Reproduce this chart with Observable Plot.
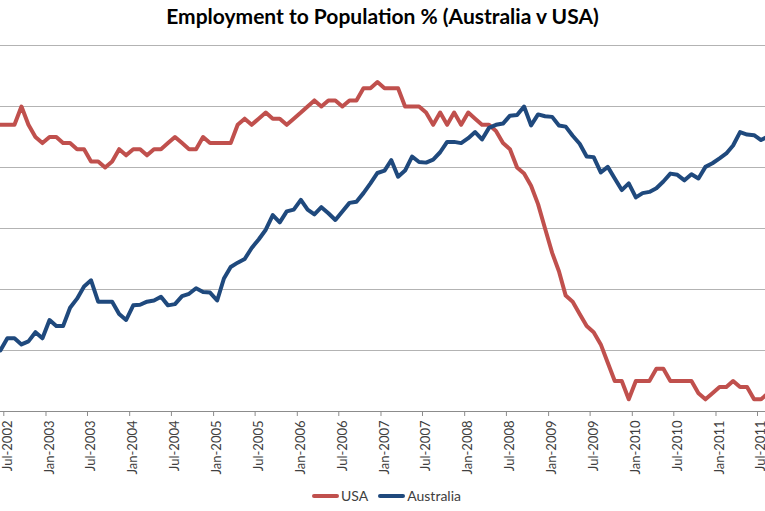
<!DOCTYPE html>
<html>
<head>
<meta charset="utf-8">
<script src="https://cdn.jsdelivr.net/npm/d3@7"></script>
<script src="https://cdn.jsdelivr.net/npm/@observablehq/plot@0.6"></script>
<style>
  body { margin: 0; background: #fff; }
  #wrap { position: relative; width: 765px; height: 511px; overflow: hidden; background: #fff; font-family: Lato, "Open Sans", sans-serif; }
  #chart { position: absolute; left: 0; top: 0; }
  #title { position: absolute; top: 3px; left: 0; width: 765px; text-align: center; font-weight: bold; font-size: 21px; color: #000; }
  #legend { position: absolute; top: 487px; left: 312px; display: flex; align-items: center; font-size: 14px; color: #404040; }
  #legend .sw { display: inline-block; width: 27px; height: 4px; border-radius: 2px; }
  #legend .lab { margin-left: 2px; margin-right: 10px; }
</style>
</head>
<body>
<div id="wrap">
  <div id="chart"></div>
  <div id="title">Employment to Population % (Australia v USA)</div>
  <div id="legend"></div>
</div>
<script>
// ---- data (monthly, starting Jun 2002) ----
const startMonth = "2002-06-01";
const seriesNames = ["USA", "Australia"];
const seriesColors = ["#C0504D", "#1F497D"];

const usa = [
  62.7, 62.7, 62.7, 63.0, 62.7, 62.5, 62.4,
  62.5, 62.5, 62.4, 62.4, 62.3, 62.3, 62.1, 62.1, 62.0, 62.1, 62.3, 62.2,
  62.3, 62.3, 62.2, 62.3, 62.3, 62.4, 62.5, 62.4, 62.3, 62.3, 62.5, 62.4,
  62.4, 62.4, 62.4, 62.7, 62.8, 62.7, 62.8, 62.9, 62.8, 62.8, 62.7, 62.8,
  62.9, 63.0, 63.1, 63.0, 63.1, 63.1, 63.0, 63.1, 63.1, 63.3, 63.3, 63.4,
  63.3, 63.3, 63.3, 63.0, 63.0, 63.0, 62.9, 62.7, 62.9, 62.7, 62.9, 62.7,
  62.9, 62.8, 62.7, 62.7, 62.6, 62.4, 62.3, 62.0, 61.9, 61.7, 61.4, 61.0,
  60.6, 60.3, 59.9, 59.8, 59.6, 59.4, 59.3, 59.1, 58.8, 58.5, 58.5, 58.2,
  58.5, 58.5, 58.5, 58.7, 58.7, 58.5, 58.5, 58.5, 58.5, 58.3, 58.2, 58.3,
  58.4, 58.4, 58.5, 58.4, 58.4, 58.2, 58.2, 58.3
];

const australia = [
  59.0, 59.2, 59.2, 59.1, 59.15, 59.3, 59.2,
  59.5, 59.4, 59.4, 59.7, 59.85, 60.05, 60.15, 59.8, 59.8, 59.8, 59.6, 59.5,
  59.74, 59.75, 59.8, 59.82, 59.88, 59.74, 59.76, 59.89, 59.93, 60.02, 59.96, 59.95,
  59.82, 60.18, 60.37, 60.44, 60.5, 60.68, 60.82, 60.98, 61.22, 61.1, 61.28, 61.31,
  61.47, 61.31, 61.23, 61.35, 61.25, 61.14, 61.28, 61.42, 61.44, 61.58, 61.74, 61.91,
  61.95, 62.12, 61.85, 61.95, 62.18, 62.09, 62.08, 62.13, 62.25, 62.42, 62.42, 62.4,
  62.48, 62.58, 62.46, 62.65, 62.7, 62.72, 62.85, 62.86, 63.0, 62.69, 62.87, 62.84,
  62.83, 62.69, 62.67, 62.52, 62.39, 62.18, 62.17, 61.92, 62.01, 61.82, 61.63, 61.74,
  61.51, 61.58, 61.6, 61.66, 61.77, 61.9, 61.88, 61.79, 61.89, 61.82, 62.01, 62.07,
  62.15, 62.23, 62.36, 62.58, 62.54, 62.53, 62.45, 62.51
];

const tickLabels = [
  "Jul-2002", "Jan-2003", "Jul-2003", "Jan-2004", "Jul-2004", "Jan-2005", "Jul-2005",
  "Jan-2006", "Jul-2006", "Jan-2007", "Jul-2007", "Jan-2008", "Jul-2008", "Jan-2009",
  "Jul-2009", "Jan-2010", "Jul-2010", "Jan-2011", "Jul-2011"
];
const gridValues = [59, 60, 61, 62, 63, 64];
const yDomain = [58, 64];

// ---- build table ----
const start = new Date(startMonth + "T00:00:00Z");
const mid = t => new Date((+t + +d3.utcMonth.offset(t, 1)) / 2);
const rows = [];
[usa, australia].forEach((vals, s) => {
  vals.forEach((v, i) => rows.push({ date: mid(d3.utcMonth.offset(start, i)), value: v, series: seriesNames[s] }));
});

const parse = d3.utcParse("%b-%Y");
const fmt = d3.utcFormat("%b-%Y");
const tickDates = tickLabels.map(parse);
const labelDates = tickDates.map(mid);

// map first/last label tick to their pixel positions in the original frame
const W = 765, pxA = 3.3, pxB = 757;
const t0 = +tickDates[0], t1 = +tickDates[tickDates.length - 1];
const k = (t1 - t0) / (pxB - pxA);
const xDomain = [new Date(t0 - pxA * k), new Date(t0 + (W - pxA) * k)];

const chart = Plot.plot({
  width: W,
  height: 511,
  marginTop: 45,
  marginBottom: 100,
  marginLeft: 0,
  marginRight: 0,
  style: { fontFamily: "Lato, 'Open Sans', sans-serif", fontSize: "13px", color: "#404040", background: "transparent" },
  x: { type: "utc", domain: xDomain },
  y: { domain: yDomain, axis: null },
  color: { domain: seriesNames, range: seriesColors },
  marks: [
    Plot.ruleY(gridValues, { stroke: "#b3b3b3", strokeWidth: 1, strokeOpacity: 1 }),
    Plot.ruleY([yDomain[0]], { stroke: "#8c8c8c", strokeWidth: 1, strokeOpacity: 1 }),
    Plot.axisX(tickDates, { tickSize: 5, tickFormat: () => "", stroke: "#8c8c8c", strokeOpacity: 1 }),
    Plot.axisX(labelDates, { tickSize: 0, tickPadding: 9, tickRotate: -90, tickFormat: d => fmt(d3.utcMonth.floor(d)), fill: "#404040", fontSize: 13 }),
    Plot.line(rows, { x: "date", y: "value", z: "series", stroke: "series", strokeWidth: 4, strokeLinejoin: "round", strokeLinecap: "round", clip: true })
  ]
});
document.getElementById("chart").appendChild(chart);

// ---- legend ----
const legend = document.getElementById("legend");
seriesNames.forEach((name, i) => {
  const sw = document.createElement("span");
  sw.className = "sw";
  sw.style.background = seriesColors[i];
  const lab = document.createElement("span");
  lab.className = "lab";
  lab.textContent = name;
  legend.appendChild(sw);
  legend.appendChild(lab);
});
</script>
</body>
</html>
